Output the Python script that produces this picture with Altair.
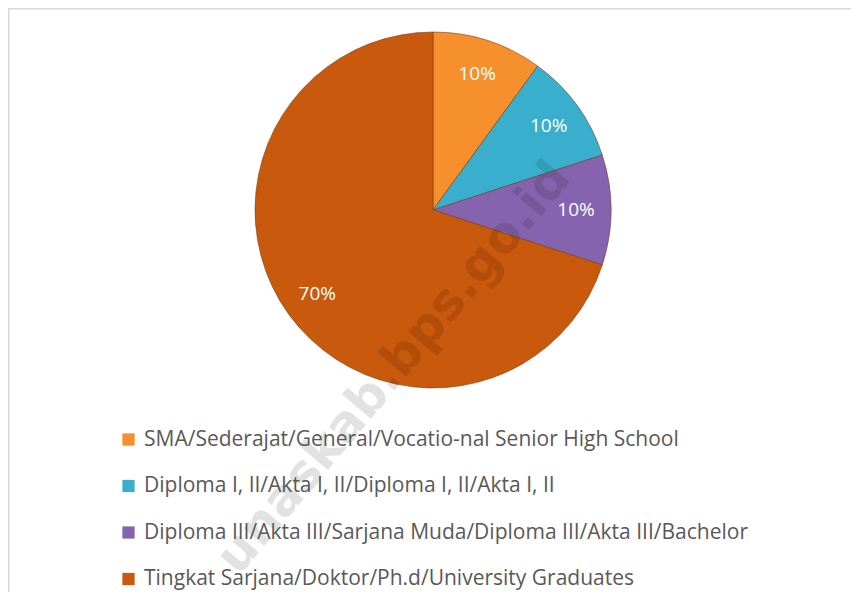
import altair as alt
import pandas as pd

categories = [
    "SMA/Sederajat/General/Vocatio-nal Senior High School",
    "Diploma I, II/Akta I, II/Diploma I, II/Akta I, II",
    "Diploma III/Akta III/Sarjana Muda/Diploma III/Akta III/Bachelor",
    "Tingkat Sarjana/Doktor/Ph.d/University Graduates",
]
values = [10, 10, 10, 70]
labels = ["10%", "10%", "10%", "70%"]
colors = ["#F6902C", "#3AAFCD", "#8663AE", "#C9590C"]
watermark = ["unaskab.bps.go.id"]

df = pd.DataFrame({
    "category": categories,
    "value": values,
    "label": labels,
    "idx": list(range(len(categories))),
})

W, H = 843, 584
CX, CY, R = 425, 202, 178

base = alt.Chart(df).encode(
    theta=alt.Theta("value:Q", stack=True),
    order=alt.Order("idx:Q"),
    x=alt.value(CX),
    y=alt.value(CY),
)

arcs = base.mark_arc(outerRadius=R, stroke="#6e3a12", strokeWidth=1, strokeOpacity=0.55).encode(
    color=alt.Color(
        "category:N",
        scale=alt.Scale(domain=categories, range=colors),
        sort=categories,
        legend=alt.Legend(
            orient="none",
            legendX=110,
            legendY=421,
            direction="vertical",
            title=None,
            symbolType="square",
            symbolSize=150,
            symbolStrokeWidth=0,
            symbolOpacity=1,
            labelFont="Open Sans",
            labelFontSize=21,
            labelColor="#595959",
            labelLimit=900,
            labelOffset=5,
            rowPadding=24.5,
            padding=0,
        ),
    )
)

text = base.mark_text(radius=143, font="Open Sans", fontSize=19, color="white").encode(
    text="label:N"
)

wm_df = pd.DataFrame({"t": watermark})
wm = alt.Chart(wm_df).mark_text(
    font="DejaVu Sans", fontWeight="bold", fontSize=50, angle=310,
    color="black", opacity=0.11, align="center", baseline="middle",
).encode(text="t:N", x=alt.value(386), y=alt.value(360))

border_top = alt.Chart(wm_df).mark_rule(color="#d9d9d9", strokeWidth=1.5).encode(
    x=alt.value(0), x2=alt.value(W), y=alt.value(0.75)
)
border_left = alt.Chart(wm_df).mark_rule(color="#d9d9d9", strokeWidth=1.5).encode(
    x=alt.value(0.75), y=alt.value(0), y2=alt.value(H)
)

chart = alt.layer(arcs, text, wm, border_top, border_left).properties(
    width=W, height=H, padding=0, autosize=alt.AutoSizeParams(type="none")
).configure_view(stroke=None).configure(background="white")

chart.save("out.html", embed_options={"renderer": "svg", "actions": False})
